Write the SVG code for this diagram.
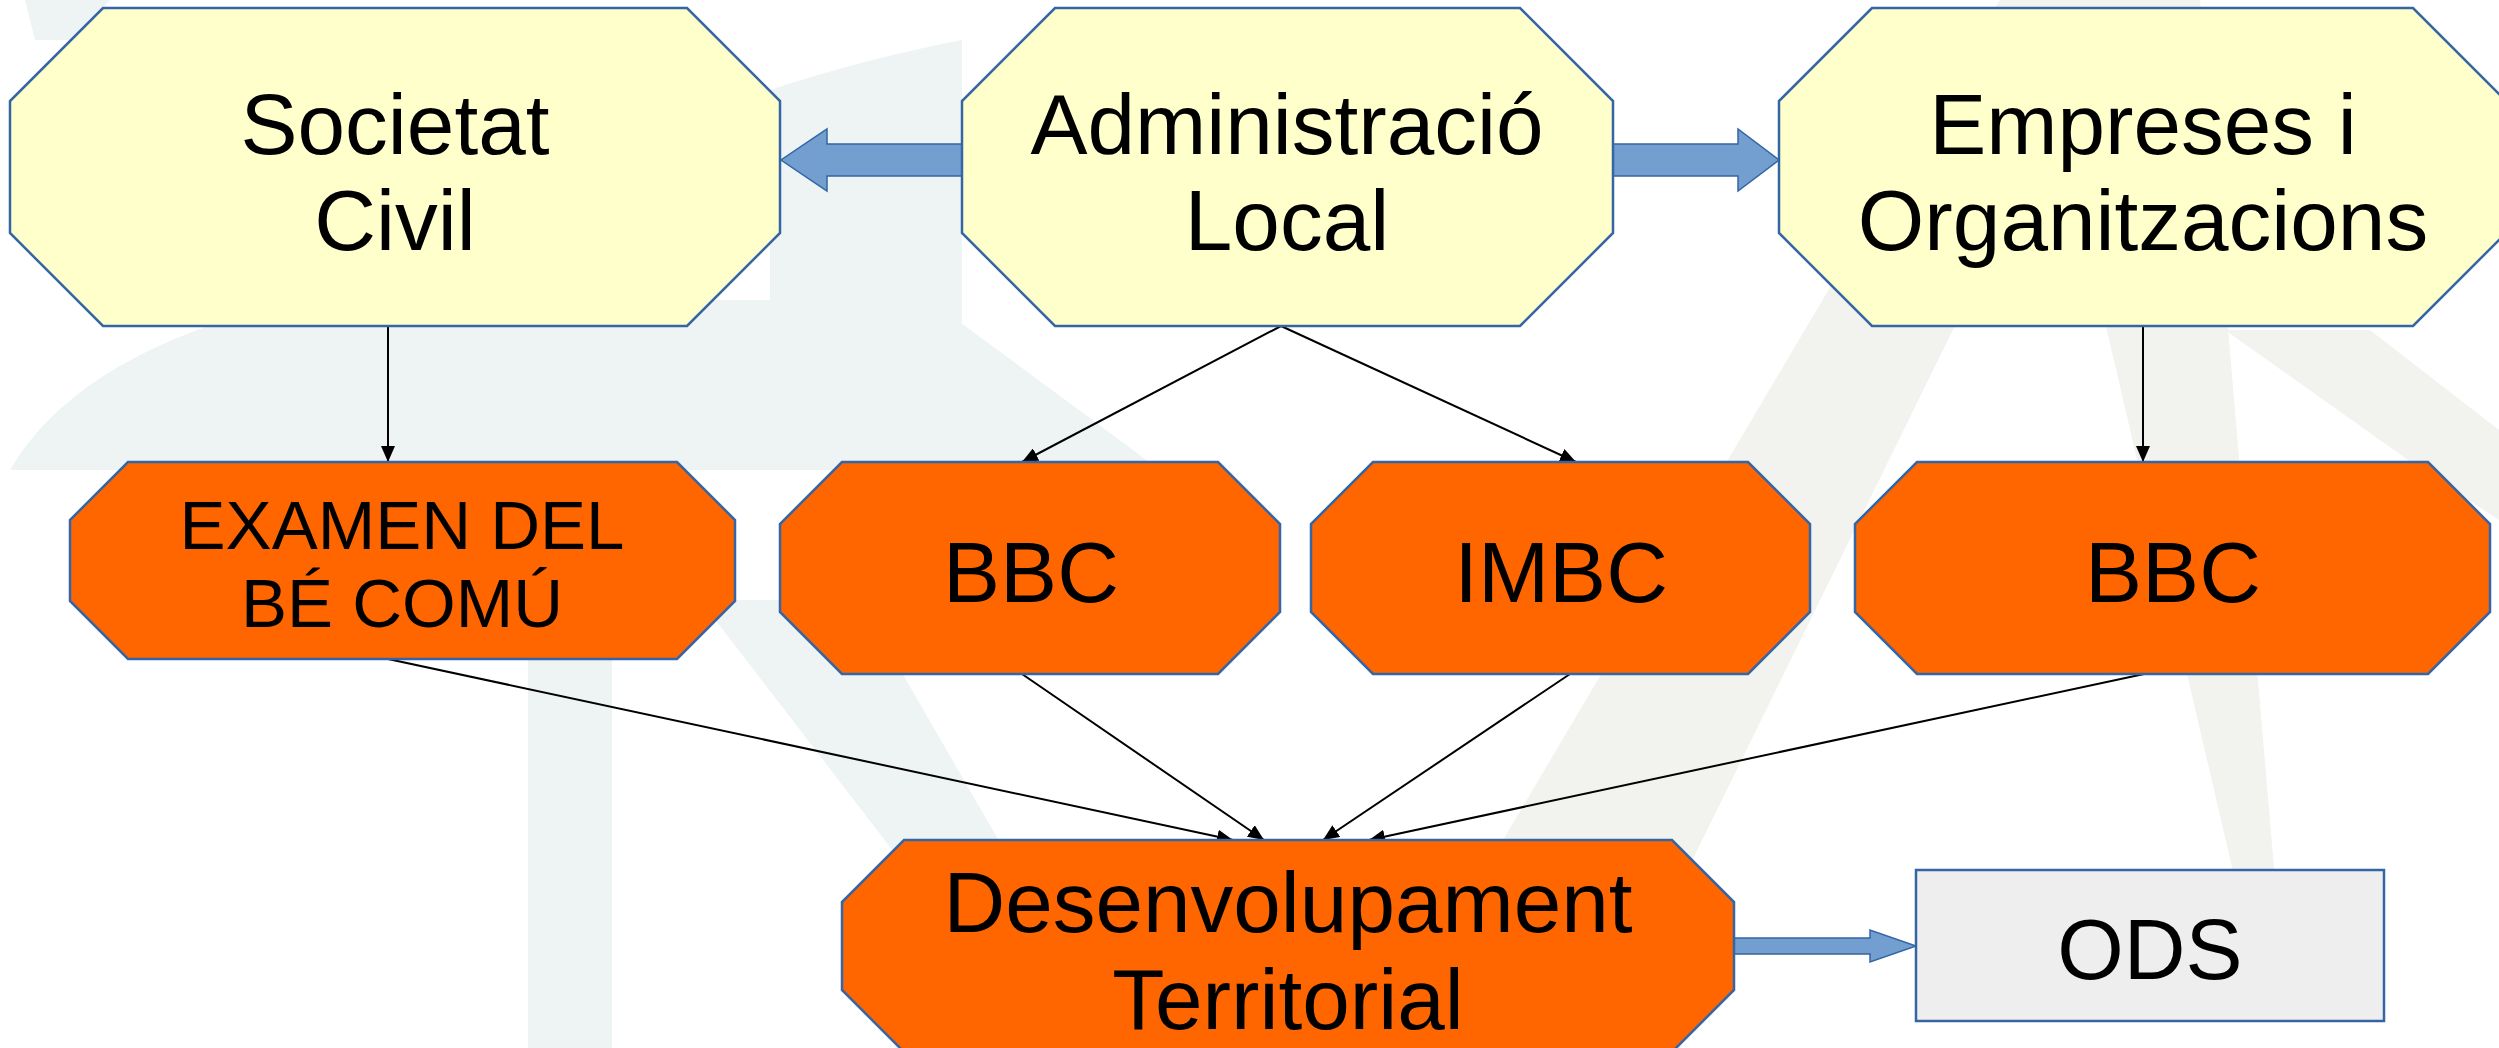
<svg xmlns="http://www.w3.org/2000/svg" width="2499" height="1048" viewBox="0 0 2499 1048">
<defs>
<style>
.wm1{fill:#eef3f3;stroke:none}
.wm2{fill:#f2f3ef;stroke:none}
.yel{fill:#ffffcc;stroke:#3465a4;stroke-width:2.5}
.org{fill:#ff6600;stroke:#3465a4;stroke-width:2.5}
.gry{fill:#eeeeee;stroke:#3465a4;stroke-width:2.5}
.bar{fill:#729fcf;stroke:#3465a4;stroke-width:1.5}
.con{fill:none;stroke:#000;stroke-width:2;marker-end:url(#ah)}
text{font-family:"Liberation Sans",Arial,sans-serif;fill:#000;text-anchor:middle}
.t84{font-size:85.5px}
.t67{font-size:69px}
</style>
<marker id="ah" viewBox="0 0 16 14" refX="16" refY="7" markerWidth="16" markerHeight="14" orient="auto" markerUnits="userSpaceOnUse">
<path d="M0,0 L16,7 L0,14 z" fill="#000"/>
</marker>
</defs>
<rect width="2499" height="1048" fill="#ffffff"/>
<g id="watermark">
<path class="wm1" d="M10,470 Q80,350 300,300 L930,300 L1160,470 Z"/>
<path class="wm1" d="M770,90 Q860,60 962,40 L962,326 L770,326 Z"/>
<rect class="wm1" x="528" y="380" width="84" height="668"/>
<polygon class="wm1" points="700,600 860,600 1010,860 900,860"/>
<polygon class="wm1" points="25,0 110,0 70,40 35,40"/>
<polygon class="wm2" points="2000,0 2115,0 1600,1048 1380,1048"/>
<polygon class="wm2" points="2030,0 2200,0 2275,880 2235,880"/>
<polygon class="wm2" points="2225,330 2370,330 2499,430 2499,520 2422,470"/>
</g>
<g id="wide-arrows">
<polygon class="bar" points="962,144 827,144 827,129 781,160 827,191 827,176 962,176"/>
<polygon class="bar" points="1613,144 1738,144 1738,129 1779,160 1738,191 1738,176 1613,176"/>
<polygon class="bar" points="1734,938 1870,938 1870,930 1916,946 1870,962 1870,954 1734,954"/>
</g>
<g id="connectors">
<line class="con" x1="388" y1="326" x2="388" y2="462"/>
<line class="con" x1="1281" y1="326" x2="1022" y2="462"/>
<line class="con" x1="1281" y1="326" x2="1576" y2="462"/>
<line class="con" x1="2143" y1="326" x2="2143" y2="462"/>
<line class="con" x1="388" y1="659" x2="1233" y2="840"/>
<line class="con" x1="1022" y1="674" x2="1264" y2="840"/>
<line class="con" x1="1570" y1="674" x2="1323" y2="840"/>
<line class="con" x1="2144" y1="674" x2="1369" y2="840"/>
</g>
<g id="societat">
<polygon class="yel" points="103,8 687,8 780,101 780,233 687,326 103,326 10,233 10,101"/>
<text class="t84" x="395" y="154">Societat</text>
<text class="t84" x="395" y="250">Civil</text>
</g>
<g id="administracio">
<polygon class="yel" points="1055,8 1520,8 1613,101 1613,233 1520,326 1055,326 962,233 962,101"/>
<text class="t84" x="1287" y="154">Administració</text>
<text class="t84" x="1287" y="250">Local</text>
</g>
<g id="empreses">
<polygon class="yel" points="1872,8 2413,8 2506,101 2506,233 2413,326 1872,326 1779,233 1779,101"/>
<text class="t84" x="2143" y="154">Empreses i</text>
<text class="t84" x="2143" y="250">Organitzacions</text>
</g>
<g id="examen">
<polygon class="org" points="128,462 677,462 735,520 735,601 677,659 128,659 70,601 70,520"/>
<text class="t67" x="402" y="549">EXAMEN DEL</text>
<text class="t67" x="402" y="627">BÉ COMÚ</text>
</g>
<g id="bbc1">
<polygon class="org" points="842,462 1218,462 1280,524 1280,612 1218,674 842,674 780,612 780,524"/>
<text class="t84" x="1031" y="602">BBC</text>
</g>
<g id="imbc">
<polygon class="org" points="1373,462 1748,462 1810,524 1810,612 1748,674 1373,674 1311,612 1311,524"/>
<text class="t84" x="1561" y="602">IMBC</text>
</g>
<g id="bbc2">
<polygon class="org" points="1917,462 2428,462 2490,524 2490,612 2428,674 1917,674 1855,612 1855,524"/>
<text class="t84" x="2173" y="602">BBC</text>
</g>
<g id="desenvolupament">
<polygon class="org" points="904,840 1672,840 1734,902 1734,990 1672,1052 904,1052 842,990 842,902"/>
<text class="t84" x="1288" y="932">Desenvolupament</text>
<text class="t84" x="1288" y="1029">Territorial</text>
</g>
<g id="ods">
<rect class="gry" x="1916" y="870" width="468" height="151"/>
<text class="t84" x="2150" y="979">ODS</text>
</g>
</svg>
